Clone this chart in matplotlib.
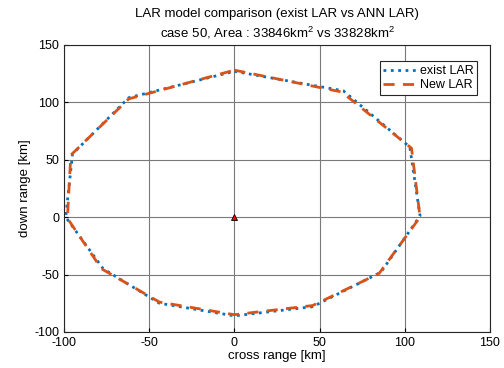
import matplotlib
matplotlib.use("Agg")
import matplotlib.pyplot as plt

plt.rcParams['font.family'] = ['Liberation Sans', 'DejaVu Sans']
plt.rcParams['mathtext.fontset'] = 'custom'
plt.rcParams['mathtext.rm'] = 'Liberation Sans'
plt.rcParams['mathtext.it'] = 'Liberation Sans'
plt.rcParams['axes.unicode_minus'] = False

# LAR boundary points (cross range, down range) in km
exist_x = [0, 64, 103, 109, 86, 46, 0, -44, -77, -99, -95, -62, 0]
exist_y = [127, 110, 61, 1, -48, -78, -86, -75, -45, 0, 55, 104, 127]
new_x = [0, 63, 104, 109, 85, 46, 0, -44, -78, -98, -96, -62, 0]
new_y = [128, 109, 60, 0, -49, -77, -85, -74, -45, -1, 54, 103, 128]
target_x = [0]
target_y = [0]

fig = plt.figure(figsize=(5.04, 3.68), dpi=100)
ax = fig.add_axes([0.127, 0.098, 0.845, 0.78])

ax.plot(exist_x, exist_y, ':', color='#0072BD', lw=2, label='exist LAR')
ax.plot(new_x, new_y, '--', color='#D95319', lw=2, label='New LAR', dashes=(4, 3))
ax.plot(target_x, target_y, '^', color='red', mec='black', mew=0.6, ms=5)

ax.set_xlim(-100, 150)
ax.set_ylim(-100, 150)
ax.set_xticks([-100, -50, 0, 50, 100, 150])
ax.set_yticks([-100, -50, 0, 50, 100, 150])
ax.grid(True, color='#7a7a7a', lw=0.8)
ax.tick_params(direction='in', labelsize=9, length=3)
for s in ax.spines.values():
    s.set_color('#262626')

ax.set_xlabel('cross range [km]', fontsize=9.5, labelpad=1)
ax.set_ylabel('down range [km]', fontsize=9.5, labelpad=2)
ax.set_title('LAR model comparison (exist LAR vs ANN LAR)\n'
             'case 50, Area : 33846km$^2$ vs 33828km$^2$', fontsize=9.5, pad=5,
             linespacing=1.4)

leg = ax.legend(loc='upper right', fontsize=9, fancybox=False, framealpha=1,
                edgecolor='#262626', handlelength=2.6, borderpad=0.3,
                labelspacing=0.2, handletextpad=0.3,
                bbox_to_anchor=(0.985, 0.965))
leg.get_frame().set_linewidth(0.8)

fig.savefig('out.png', dpi=100)
